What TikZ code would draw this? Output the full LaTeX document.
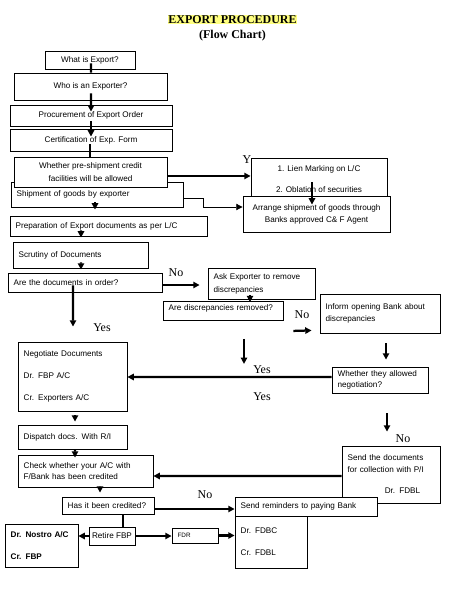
\documentclass[tikz,border=0pt]{standalone}
\usepackage{fontspec}
\setmainfont{Liberation Serif}
\newfontfamily\boxfam{Liberation Sans}
\newcommand\boxfont{\boxfam\fontsize{5.8}{8}\selectfont}
\usetikzlibrary{arrows.meta, positioning, calc}
\definecolor{hilite}{HTML}{FFFF80}
\tikzset{
  every picture/.style={line width=0.6pt},
  box/.style 2 args={draw, fill=white, font=\boxfont, inner sep=2pt, align=center,
    minimum width=#1*0.025cm, minimum height=#2*0.025cm},
  lbox/.style 2 args={box={#1}{#2}, align=left, inner xsep=4pt, text width=#1*0.025cm-8pt},
  flow/.style={-{Triangle[length=4.5pt, width=4.5pt]}, line width=1.6pt},
  link/.style={line width=1.6pt},
  slim/.style={-{Triangle[length=4.5pt, width=4.5pt]}, line width=0.6pt},
  title/.style={font=\bfseries\fontsize{8.5}{10}\selectfont, inner sep=0.6pt},
  note/.style={font=\fontsize{8.5}{10}\selectfont, inner sep=1pt},
}

\begin{document}
\begin{tikzpicture}[x=0.025cm, y=-0.025cm]
  \useasboundingbox (0,0) rectangle (455,589);
  \node[title, fill=hilite] (head) at (232.5,19.5) {EXPORT PROCEDURE};
  \node[title, below=0.1cm of head] (sub) {(Flow Chart)};
  % left column
  \node[box={90}{18}] (what) at (90,60) {What is Export?};
  \node[box={153}{27}] (who) at (90.5,86.5) {Who is an Exporter?};
  \node[box={162}{21}] (proc) at (91,115.5) {Procurement of Export Order};
  \node[box={162}{22}] (cert) at (91,140) {Certification of Exp. Form};
  \node[lbox={172}{25}] (ship) at (97,194.5) {Shipment of goods by exporter};
  \node[box={153}{30}] (pre) at (90.5,172) {Whether pre-shipment credit\\[1.2pt] facilities will be allowed};
  \node[lbox={197}{20}] (prep) at (108.5,226) {Preparation of Export documents as per L/C};
  \node[lbox={135}{26}] (scrut) at (80.5,255) {Scrutiny of Documents};
  \node[lbox={154}{19}] (order) at (85,282.5) {Are the documents in order?};
  \node[lbox={109}{69}] (negotiate) at (72.5,376.5) {Negotiate Documents\\[7.5pt] Dr. FBP A/C\\[7.5pt] Cr. Exporters A/C};
  \node[lbox={109}{24}] (dispatch) at (72.5,437) {Dispatch docs. With R/I};
  \node[lbox={135}{32}] (check) at (85.5,471) {Check whether your A/C with\\ F/Bank has been credited};
  \node[lbox={92}{17}] (credited) at (108,505.5) {Has it been credited?};
  \node[box={46}{18}] (retire) at (112,536) {Retire FBP};
  \node[lbox={73}{43}, font=\boxfont\bfseries] (nostro) at (41.5,545.5) {Dr. Nostro A/C\\[7.5pt] Cr. FBP};
  \node[lbox={46}{15}, font=\boxfam\fontsize{4.5}{5}\selectfont] (fdr) at (195,535.5) {FDR};
  % right column
  \node[box={136}{42}] (lien) at (319,179) {1. Lien Marking on L/C\\[7.5pt] 2. Oblation of securities};
  \node[box={147}{36}] (arrange) at (316.5,214) {Arrange shipment of goods through\\[0.5pt] Banks approved C\& F Agent};
  \node[lbox={107}{31}] (ask) at (261.5,283.5) {Ask Exporter to remove\\[1.2pt] discrepancies};
  \node[lbox={120}{19}, text depth=5pt, inner ysep=0.5pt] (removed) at (223,311) {Are discrepancies removed?};
  \node[lbox={120}{39}] (inform) at (380,313.5) {Inform opening Bank about\\ discrepancies};
  \node[lbox={96}{26}] (allowed) at (380,380) {Whether they allowed\\ negotiation?};
  \node[lbox={98}{57}] (collect) at (391,474.5) {Send the documents\\ for collection with P/I\\[7.5pt] \hspace*{0.93cm}Dr. FDBL};
  \node[lbox={142}{19}] (remind) at (306,506.5) {Send reminders to paying Bank};
  \node[lbox={72}{52}] (fdbc) at (271,542) {Dr. FDBC\\[7.5pt] Cr. FDBL};
  % labels
  \node[note] (yLien) at (247,160) {Y};
  \node[note] (noOrder) at (176,273) {No};
  \node[note] (yesOrder) at (102,328) {Yes};
  \node[note] (noRemoved) at (302,315) {No};
  \node[note] (yesRemoved) at (262,370) {Yes};
  \node[note] (yesAllowed) at (262,397) {Yes};
  \node[note] (noAllowed) at (403,439) {No};
  \node[note] (noCredited) at (205,495) {No};
  % connectors
  \draw[link] ($(what.south)+(1,-6)$) -- ($(who.north)+(0.5,0)$);
  \draw[flow] ($(who.south)+(0.5,-7)$) -- ($(proc.north)+(0,7)$);
  \draw[flow] ($(proc.south)+(0,-5)$) -- ($(cert.north)+(0,8)$);
  \draw[link] ($(cert.south)+(-1,-7)$) -- ($(pre.north)+(-0.5,0)$);
  \draw[flow] ($(pre.east)+(0,4)$) -- ($(lien.west)+(0,-3)$);
  \draw[slim] ($(ship.east)+(0,3.5)$) -- ++(20,0) |- ($(arrange.west)+(0,-7)$);
  \draw[flow] ($(lien.south)+(-7,-18)$) -- ($(arrange.north)+(-4.5,9)$);
  \draw[flow] ($(ship.south)+(-2,-5)$) -- ($(prep.north)+(-13.5,-6)$);
  \draw[flow] ($(prep.south)+(-27.5,-6)$) -- ($(scrut.north)+(0.5,-4)$);
  \draw[flow] ($(scrut.south)+(0.5,-6)$) -- ($(order.north)+(-4,-3)$);
  \draw[flow] ($(order.east)+(0,2.5)$) -- ($(ask.west)+(-8,1.5)$);
  \draw[flow] ($(order.south)+(-12,-7)$) -- ($(negotiate.north)+(0.5,-15)$);
  \draw[flow] ($(ask.south)+(-11.5,-4)$) -- ($(removed.north)+(27,1)$);
  \draw[flow] ($(removed.south)+(21,18)$) -- ($(removed.south)+(21,43)$);
  \draw[flow] ($(removed.south east)+(10,10)$) -- ($(inform.south west)+(-8,-3)$);
  \draw[flow] ($(inform.south)+(6,10)$) -- ($(allowed.north)+(6,-7)$);
  \draw[flow] ($(allowed.west)+(0,-3)$) -- ($(negotiate.east)+(0,0.5)$);
  \draw[flow] ($(allowed.south)+(7,20)$) -- ($(collect.north)+(-4,-14)$);
  \draw[flow] ($(negotiate.south)+(2.5,4)$) -- ($(dispatch.north)+(2.5,-3)$);
  \draw[flow] ($(dispatch.south)+(2.5,0)$) -- ($(check.north)+(-10.5,3)$);
  \draw[flow] ($(collect.west)+(0,1.5)$) -- ($(check.east)+(0,5)$);
  \draw[flow] ($(check.south)+(14.5,0)$) -- ($(credited.north)+(-8,-4)$);
  \draw[flow] ($(credited.east)+(0,3.5)$) -- ($(remind.west)+(0,2.5)$);
  \draw[link] ($(credited.south)+(15,0)$) -- ($(retire.north)+(11,0)$);
  \draw[flow] (retire.west) -- (retire.west -| nostro.east);
  \draw[flow] (retire.east) -- (retire.east -| fdr.west);
  \draw[flow] (fdr.east) -- (fdr.east -| fdbc.west);
\end{tikzpicture}
\end{document}
